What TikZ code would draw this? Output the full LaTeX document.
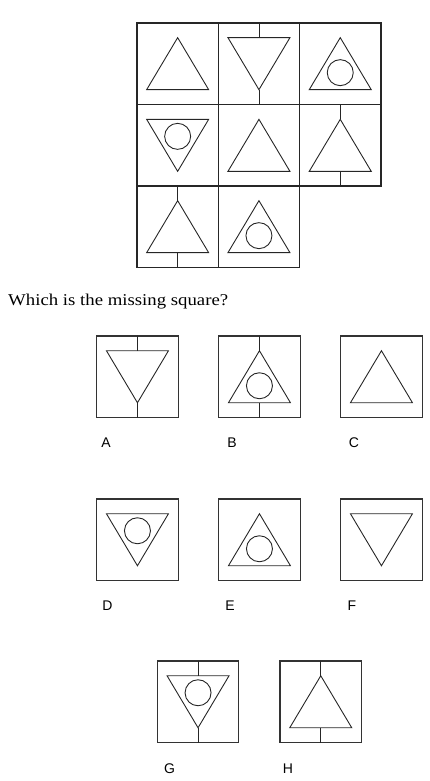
\documentclass[tikz,border=0pt]{standalone}
\usepackage{fontspec}
\setmainfont{Liberation Serif}
\newfontfamily\labfont{Liberation Sans}
\begin{document}
\begin{tikzpicture}[x=1pt,y=-1pt,
  shape line/.style={line width=0.9pt, draw=black!85},
  cell/.style={line width=1.2pt, draw=black!85},
  optbox/.style={line width=1.1pt, draw=black!80},
  lab/.style={font=\labfont\fontsize{14}{14}\selectfont, anchor=base, inner sep=0pt},
  pics/upt/.style={code={\draw[shape line] (-31,26) -- (31,26) -- (0,-26) -- cycle;}},
  pics/downt/.style={code={\draw[shape line] (-31,-26) -- (31,-26) -- (0,26) -- cycle;}},
  pics/cup/.style={code={\draw[shape line] (0,9) circle[radius=13];}},
  pics/cdown/.style={code={\draw[shape line] (0,-9) circle[radius=13];}},
  pics/stems/.style={code={\draw[shape line] (0,-41) -- (0,-26) (0,26) -- (0,41);}}
]
\useasboundingbox (0,0) rectangle (430,781);
% grid
\foreach \cx/\cy in {137/23, 218.3/23, 299.6/23, 137/104.7, 218.3/104.7, 299.6/104.7, 137/186, 218.3/186}
  \draw[cell] (\cx,\cy) rectangle ++(81.3,81.3);
% row 1
\pic at (177.65,63.65) {upt};
\pic at (258.95,63.65) {downt};
\pic at (258.95,63.65) {stems};
\pic at (340.25,63.65) {upt};
\pic at (340.25,63.65) {cup};
% row 2
\pic at (177.65,145.35) {downt};
\pic at (177.65,145.35) {cdown};
\pic at (258.95,145.35) {upt};
\pic at (340.25,145.35) {upt};
\pic at (340.25,145.35) {stems};
% row 3
\pic at (177.65,226.65) {upt};
\pic at (177.65,226.65) {stems};
\pic at (258.95,226.65) {upt};
\pic at (258.95,226.65) {cup};
% question
\node[anchor=base west, inner sep=0pt, font=\fontsize{16.5}{18}\selectfont] (q) at (8,305.5) {\resizebox{220pt}{\height}{Which is the missing square?}};
% options
\foreach \bx/\by/\nm in {96.7/336/A, 218.7/336/B, 340.7/336/C, 96.7/499/D, 218.7/499/E, 340.7/499/F, 157.3/661/G, 280/661/H}
  \draw[optbox] (\bx,\by) rectangle ++(81.5,81.5) coordinate (box\nm);
% A
\pic at (137.45,376.75) {downt};
\pic at (137.45,376.75) {stems};
% B
\pic at (259.45,376.75) {upt};
\pic at (259.45,376.75) {cup};
\pic at (259.45,376.75) {stems};
% C
\pic at (381.45,376.75) {upt};
% D
\pic at (137.45,539.75) {downt};
\pic at (137.45,539.75) {cdown};
% E
\pic at (259.45,539.75) {upt};
\pic at (259.45,539.75) {cup};
% F
\pic at (381.45,539.75) {downt};
% G
\pic at (198.05,701.75) {downt};
\pic at (198.05,701.75) {cdown};
\pic at (198.05,701.75) {stems};
% H
\pic at (320.75,701.75) {upt};
\pic at (320.75,701.75) {stems};
% labels
\node[lab] (la) at (106,447) {A};
\node[lab] (lb) at (232,447) {B};
\node[lab] (lc) at (354,447) {C};
\node[lab] (ld) at (107.5,610) {D};
\node[lab] (le) at (230,610) {E};
\node[lab] (lf) at (352,610) {F};
\node[lab] (lg) at (169.5,773) {G};
\node[lab] (lh) at (288,773) {H};
\end{tikzpicture}
\end{document}
